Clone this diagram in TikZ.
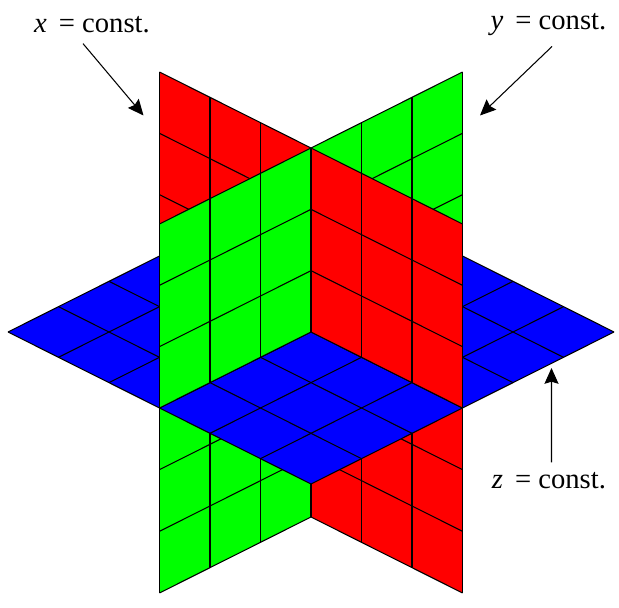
\documentclass[tikz,border=0pt]{standalone}
\usepackage{fontspec}
\setmainfont{Liberation Serif}
\usetikzlibrary{calc,arrows.meta}
\tikzset{
    gridline/.style={black,line width=0.6pt,line join=round},
    pointer/.style={-{Stealth[length=9pt,width=8pt,inset=1.2pt]},line width=0.6pt},
    planelabel/.style={font=\fontsize{16.3}{19}\selectfont,inner sep=0pt}
}
\newcommand{\panel}[3]{%
    \fill[#1] (O) -- ++(#2) -- ++(#3) -- ($(O)+(#3)$) -- cycle;
    \foreach \i in {0,1,2,3} {
        \draw[gridline] ($(O)+\i/3*(#2)$) -- ++(#3);
        \draw[gridline] ($(O)+\i/3*(#3)$) -- ++(#2);
    }
}
\begin{document}
\begin{tikzpicture}
    \useasboundingbox (0,0) rectangle (12.38,12.16);
    \coordinate (O) at (6.22,5.52);

    %Below the blue plane
    \panel{green}{-3.03,-1.52}{0,-3.70}
    \panel{red}{3.03,-1.52}{0,-3.70}

    %Blue plane
    \panel{blue}{-3.03,1.52}{-3.03,-1.52}
    \panel{blue}{-3.03,1.52}{3.03,1.52}
    \panel{blue}{3.03,1.52}{3.03,-1.52}
    \panel{blue}{-3.03,-1.52}{3.03,-1.52}

    %Above the blue plane
    \panel{red}{-3.03,1.52}{0,3.68}
    \panel{green}{3.03,1.52}{0,3.68}
    \panel{green}{-3.03,-1.52}{0,3.68}
    \panel{red}{3.03,-1.52}{0,3.68}

    \node[planelabel] (xlabel) at (1.84,11.66) {\textit{x} \,= const.};
    \node[planelabel] (ylabel) at (10.97,11.66) {\textit{y} \,= const.};
    \node[planelabel] (zlabel) at (10.98,2.54) {\textit{z} \,= const.};

    \coordinate (xtip) at (2.87,9.85);
    \coordinate (ytip) at (9.6,9.85);
    \coordinate (ztip) at (11.03,4.8);

    \draw[pointer] ($(xlabel.south)+(-0.18,-0.2)$) -- (xtip);
    \draw[pointer] ($(ylabel.south)+(0.07,-0.2)$) -- (ytip);
    \draw[pointer] ($(zlabel.north)+(0.05,0.2)$) -- (ztip);
\end{tikzpicture}
\end{document}
